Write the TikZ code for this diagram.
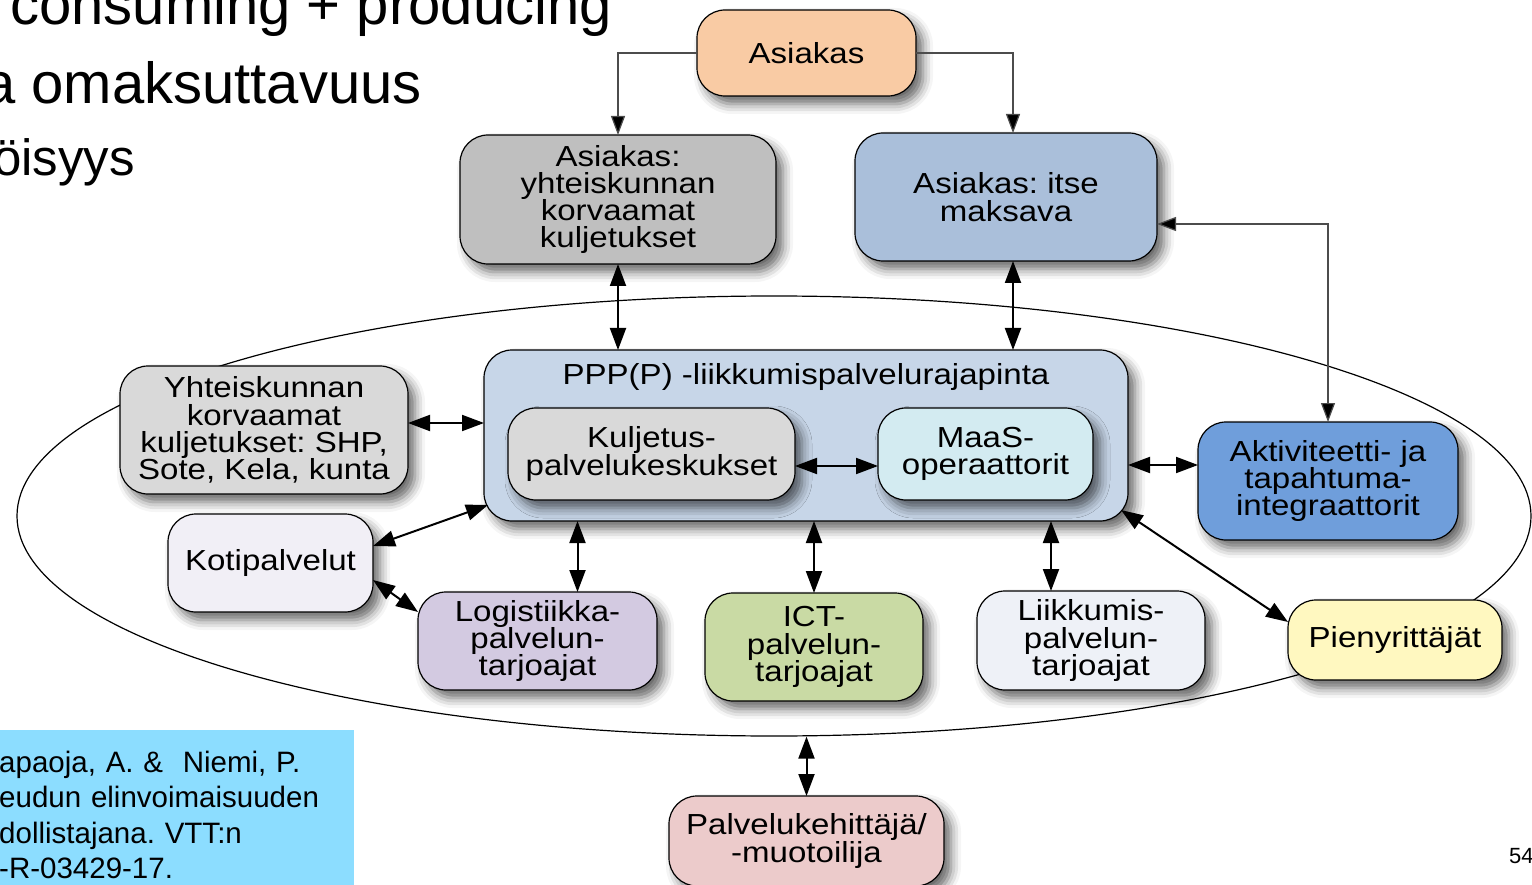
\documentclass[tikz,border=0pt]{standalone}
\usepackage{fontspec}
\setmainfont{Liberation Sans}
\newfontfamily\diafont[FakeStretch=1.14]{Liberation Sans}
\usepackage{xcolor}
\usetikzlibrary{shapes.geometric, arrows.meta, shadows.blur}

\definecolor{asiakasfill}{HTML}{F9CBA4}
\definecolor{ykgray}{HTML}{BFBFBF}
\definecolor{imblue}{HTML}{AABFDA}
\definecolor{pppblue}{HTML}{C7D6E8}
\definecolor{kjgray}{HTML}{D9D9D9}
\definecolor{maascyan}{HTML}{D3EBF1}
\definecolor{kotifill}{HTML}{F1EFF6}
\definecolor{logfill}{HTML}{D3CAE1}
\definecolor{ictfill}{HTML}{C9DAA4}
\definecolor{lkfill}{HTML}{EEF1F7}
\definecolor{aktblue}{HTML}{6F9EDB}
\definecolor{pienfill}{HTML}{FFF8C0}
\definecolor{pkpink}{HTML}{ECCBCB}
\definecolor{citeblue}{HTML}{8CDDFF}

\begin{document}
\frenchspacing
\begin{tikzpicture}[
    x=1pt, y=-1pt,
    >={Triangle[length=22pt, width=16pt]},
    % Rounded boxes of the diagram
    box/.style={
        rectangle, rounded corners=28pt, draw=black, line width=1.2pt,
        align=center, inner sep=0pt, outer sep=0pt,
        font=\diafont\fontsize{29}{27.3}\selectfont,
        blur shadow={shadow xshift=7pt, shadow yshift=-8pt,
            shadow blur radius=10pt, shadow opacity=60}
    },
    % Slide text
    slide/.style={font=\fontsize{58}{78}\selectfont, inner sep=0pt},
    % Thick double arrow
    arr/.style={<->, line width=2pt, black},
    % Thin connector
    tarr/.style={line width=1.2pt, black!70,
        >={Triangle[length=19pt, width=14pt, fill=black]}},
]
\useasboundingbox (0,0) rectangle (1532,885);

% ===== SLIDE TEXT =====
\node[slide, anchor=base east] (line1) at (612, 25) {consuming + producing};
\node[slide, anchor=base east] (line2) at (422, 104) {a omaksuttavuus};
\node[slide, anchor=base east, font=\fontsize{51}{78}\selectfont]
    (line3) at (135, 176) {öisyys};

% ===== OUTER RING =====
\node[draw, ellipse, line width=1.2pt, inner sep=0pt,
    minimum width=1514pt, minimum height=440pt] (ring) at (774, 516) {};

% ===== CUSTOMERS =====
\node[box, fill=asiakasfill, minimum width=219pt, minimum height=86pt]
    (asiakas) at (806.5, 53) {Asiakas};

\node[box, fill=ykgray, minimum width=316pt, minimum height=129pt]
    (yk) at (618, 199.5) {Asiakas:\\yhteiskunnan\\korvaamat\\kuljetukset};

\node[box, fill=imblue, minimum width=302pt, minimum height=128pt]
    (im) at (1006, 197) {Asiakas: itse\\maksava};

\draw[tarr, ->] (asiakas.west) -| (yk.north);
\draw[tarr, ->] (asiakas.east) -| ([xshift=7pt]im.north);

% ===== INTERFACE =====
\node[box, fill=pppblue, minimum width=644pt, minimum height=171pt,
    label={[font=\diafont\fontsize{29}{27.3}\selectfont, anchor=north,
        yshift=-10pt]north:PPP(P) -liikkumispalvelurajapinta}]
    (ppp) at (806, 435.5) {};

\node[box, fill=kjgray, minimum width=287pt, minimum height=92pt]
    (kj) at (651.5, 454) {Kuljetus-\\palvelukeskukset};

\node[box, fill=maascyan, minimum width=215pt, minimum height=92pt]
    (maas) at (985.5, 454) {MaaS-\\operaattorit};

\draw[arr] ([yshift=-12pt]kj.east) -- ([yshift=-12pt]kj.east -| maas.west);

\draw[arr] (yk.south) -- (yk.south |- ppp.north);
\draw[arr] ([xshift=7pt]im.south) -- ([xshift=7pt]im.south |- ppp.north);

% ===== PROVIDERS =====
\node[box, fill=kjgray, minimum width=288pt, minimum height=128pt]
    (yleft) at (264, 430) {Yhteiskunnan\\korvaamat\\kuljetukset: SHP,\\Sote, Kela, kunta};

\node[box, fill=kotifill, minimum width=205pt, minimum height=98pt]
    (koti) at (270.5, 563) {Kotipalvelut};

\node[box, fill=logfill, minimum width=239pt, minimum height=98pt]
    (logi) at (537.5, 641) {Logistiikka-\\palvelun-\\tarjoajat};

\node[box, fill=ictfill, minimum width=218pt, minimum height=108pt]
    (ict) at (814, 647) {ICT-\\palvelun-\\tarjoajat};

\node[box, fill=lkfill, minimum width=228pt, minimum height=99pt]
    (liik) at (1091, 640.5) {Liikkumis-\\palvelun-\\tarjoajat};

\node[box, fill=aktblue, minimum width=260pt, minimum height=118pt]
    (akt) at (1328, 481) {Aktiviteetti- ja\\tapahtuma-\\integraattorit};

\node[box, fill=pienfill, minimum width=214pt, minimum height=80pt]
    (pien) at (1395, 640) {Pienyrittäjät};

\node[box, fill=pkpink, minimum width=275pt, minimum height=90pt]
    (kehit) at (806.5, 841) {Palvelukehittäjä/\\-muotoilija};

\draw[arr] ([yshift=7pt]yleft.east) -- ([yshift=7pt]yleft.east -| ppp.west);
\draw[arr] ([yshift=17pt]koti.east) -- ([xshift=4pt, yshift=16pt]ppp.south west);
\draw[arr] ([yshift=-17pt]koti.east) -- ([yshift=29pt]logi.west);
\draw[arr] ([xshift=40pt]logi.north) -- ([xshift=40pt]logi.north |- ppp.south);
\draw[arr] (ict.north) -- (ict.north |- ppp.south);
\draw[arr] ([xshift=-40pt]liik.north) -- ([xshift=-40pt]liik.north |- ppp.south);
\draw[arr] ([yshift=16pt]akt.west) -- ([yshift=16pt]akt.west -| ppp.east);
\draw[arr] ([xshift=-7pt, yshift=11pt]ppp.south east) -- ([yshift=18pt]pien.west);
\draw[arr] (kehit.north) -- (kehit.north |- ring.south);

\draw[tarr, <->] ([yshift=-27pt]im.east) -| (akt.north);

% ===== SOURCE AND PAGE =====
\node[fill=citeblue, anchor=north west, minimum width=355pt, minimum height=170pt,
    text width=355pt, inner xsep=0pt, align=left,
    font=\fontsize{29.5}{35.5}\selectfont] (cite) at (-1, 730)
    {apaoja, A. \&\ \ Niemi, P.\\eudun elinvoimaisuuden\\dollistajana. VTT:n\\-R-03429-17.};

\node[font=\fontsize{22}{22}\selectfont, anchor=base west, inner sep=0pt]
    (pagenum) at (1509, 863) {54};

\end{tikzpicture}
\end{document}
